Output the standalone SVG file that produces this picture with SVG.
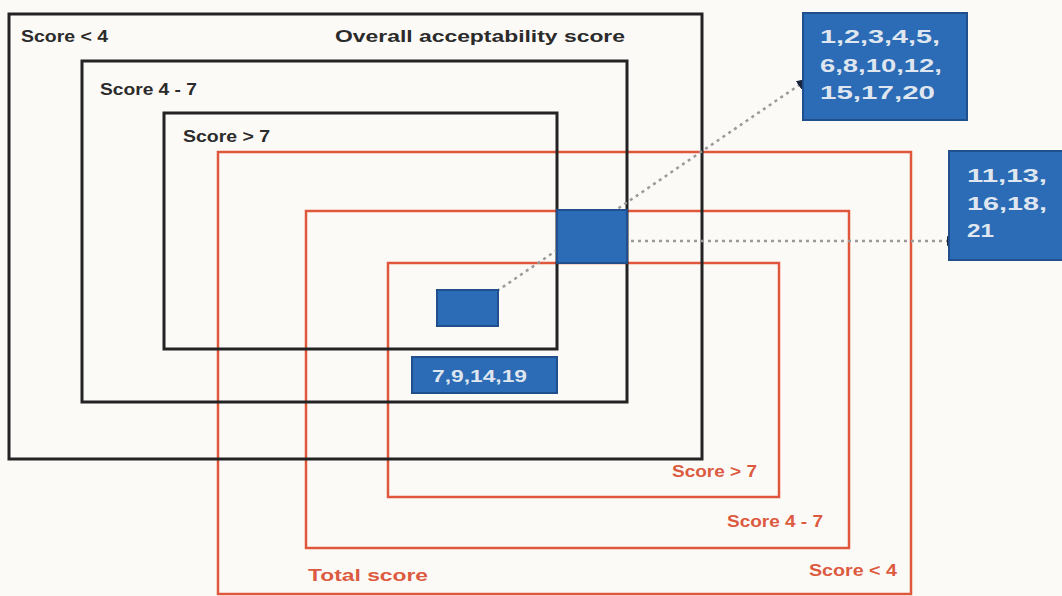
<svg xmlns="http://www.w3.org/2000/svg" width="1062" height="596" viewBox="0 0 1062 596">
<defs>
<style>
.blk{fill:none;stroke:#232323;stroke-width:3}
.red{fill:none;stroke:#e0583c;stroke-width:2.5}
.bt{font-family:"Liberation Sans",Arial,sans-serif;font-weight:bold;font-size:16px;fill:#2b2b2b}
.rt{font-family:"Liberation Sans",Arial,sans-serif;font-weight:bold;font-size:16px;fill:#dc5a3f}
.box{fill:#2c6bb6;stroke:#1f4f8c;stroke-width:2}
.wt{font-family:"Liberation Sans",Arial,sans-serif;font-weight:bold;font-size:19px;fill:#dfe6ef}
.dot{fill:none;stroke:#9a9a9a;stroke-width:2.5;stroke-dasharray:3 4}
</style>
<marker id="end" viewBox="0 0 10 10" refX="9" refY="5" markerWidth="5" markerHeight="5" orient="auto" markerUnits="strokeWidth">
<path d="M0,1 L10,5 L0,9 Z" fill="#18243c"/>
</marker>
</defs>
<rect x="0" y="0" width="1062" height="596" fill="#fcfaf7"/>

<g id="total-score">
<rect id="total-lt4" class="red" x="218" y="152" width="693" height="442"/>
<rect id="total-4to7" class="red" x="306" y="211" width="543" height="337"/>
<rect id="total-gt7" class="red" x="388" y="263" width="391" height="234"/>
<text class="rt" x="672" y="477" textLength="85" lengthAdjust="spacingAndGlyphs">Score &gt; 7</text>
<text class="rt" x="727" y="527" textLength="96" lengthAdjust="spacingAndGlyphs">Score 4 - 7</text>
<text class="rt" x="809" y="576" textLength="88" lengthAdjust="spacingAndGlyphs">Score &lt; 4</text>
<text class="rt" x="308" y="581" textLength="120" lengthAdjust="spacingAndGlyphs">Total score</text>
</g>

<g id="overall-score">
<rect id="overall-lt4" class="blk" x="9" y="14" width="693" height="445"/>
<rect id="overall-4to7" class="blk" x="82" y="61" width="545" height="341"/>
<rect id="overall-gt7" class="blk" x="164" y="113" width="393" height="236"/>
<text class="bt" x="21" y="42" textLength="87" lengthAdjust="spacingAndGlyphs">Score &lt; 4</text>
<text class="bt" x="335" y="42" textLength="290" lengthAdjust="spacingAndGlyphs">Overall acceptability score</text>
<text class="bt" x="100" y="95" textLength="97" lengthAdjust="spacingAndGlyphs">Score 4 - 7</text>
<text class="bt" x="183" y="142" textLength="87" lengthAdjust="spacingAndGlyphs">Score &gt; 7</text>
</g>

<g id="connectors">
<line class="dot" x1="497" y1="291" x2="808" y2="79" marker-end="url(#end)"/>
<line class="dot" x1="631" y1="241" x2="958" y2="241" marker-end="url(#end)"/>
</g>

<g id="node-small">
<rect class="box" x="437" y="290" width="61" height="36"/>
</g>
<g id="node-center">
<rect class="box" x="557" y="210" width="70" height="53"/>
</g>
<g id="node-7-9-14-19">
<rect class="box" x="412" y="357" width="145" height="36"/>
<text class="wt" x="432" y="382" style="font-size:16px" textLength="95" lengthAdjust="spacingAndGlyphs">7,9,14,19</text>
</g>
<g id="node-top-right">
<rect class="box" x="803" y="13" width="164" height="107"/>
<text class="wt" x="820" y="43" textLength="120" lengthAdjust="spacingAndGlyphs">1,2,3,4,5,</text>
<text class="wt" x="820" y="72" textLength="122" lengthAdjust="spacingAndGlyphs">6,8,10,12,</text>
<text class="wt" x="820" y="99" textLength="115" lengthAdjust="spacingAndGlyphs">15,17,20</text>
</g>
<g id="node-right">
<rect class="box" x="949" y="151" width="115" height="109"/>
<text class="wt" x="967" y="182" textLength="80" lengthAdjust="spacingAndGlyphs">11,13,</text>
<text class="wt" x="967" y="210" textLength="80" lengthAdjust="spacingAndGlyphs">16,18,</text>
<text class="wt" x="967" y="237" textLength="27" lengthAdjust="spacingAndGlyphs">21</text>
</g>
</svg>
